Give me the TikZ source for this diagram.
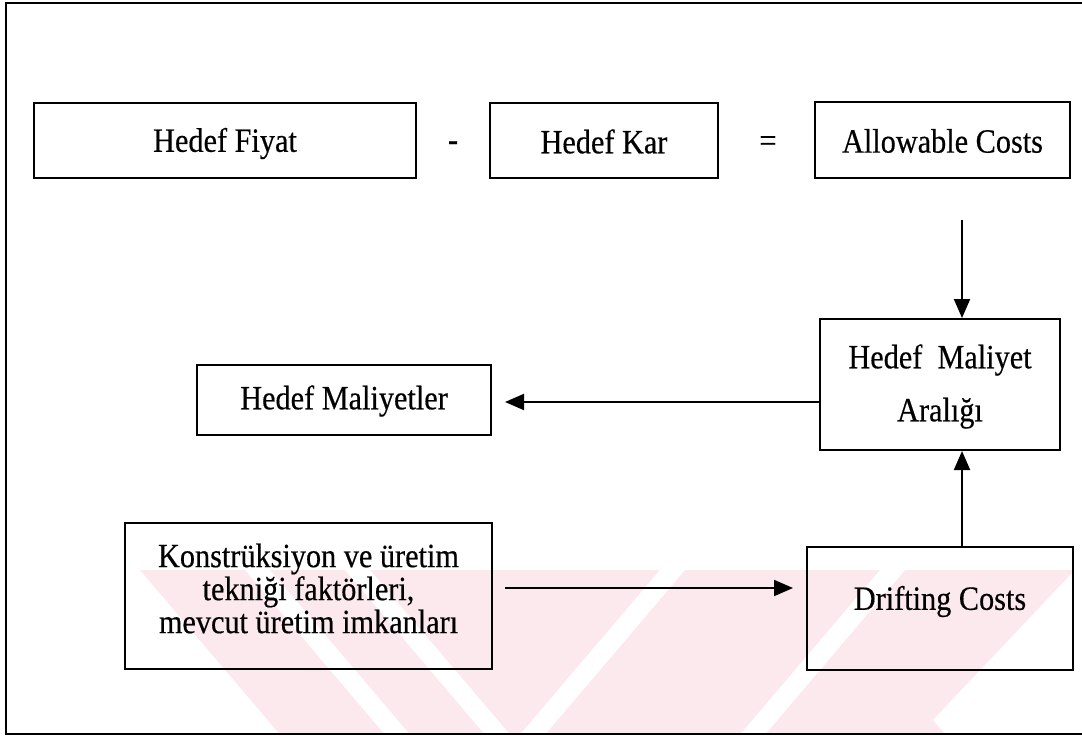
\documentclass[tikz,border=0pt]{standalone}
\usepackage{fontspec}
\setmainfont{Liberation Serif}[FakeStretch=0.89,FakeBold=0.4]
\usetikzlibrary{arrows.meta}
\definecolor{wmpink}{RGB}{252,233,237}
\tikzset{
  box/.style={draw, line width=2pt, inner sep=0pt},
  txt/.style={inner sep=0pt, align=center},
  conn/.style={line width=2pt, -{Triangle[length=19pt,width=16pt]}},
  gap/.style={fill=white},
}
\begin{document}
\begin{tikzpicture}[x=1pt,y=-1pt,font=\fontsize{34}{33}\selectfont]
\useasboundingbox (0,0) rectangle (1082,737);

% faint stripes in the lower part of the frame
\begin{scope}
  \clip (6,3) rectangle (1082,734);
  \fill[wmpink] (140,570) -- (1082,570) -- (1082,737) -- (282,737) -- cycle;
  \fill[gap] (245,570) -- (270,570) -- (412,737) -- (387,737) -- cycle;
  \fill[gap] (345,570) -- (370,570) -- (512,737) -- (487,737) -- cycle;
  \fill[gap] (660,570) -- (685,570) -- (543,737) -- (518,737) -- cycle;
  \fill[gap] (880,570) -- (905,570) -- (763,737) -- (738,737) -- cycle;
  \fill[gap] (1075,570) -- (1082,570) -- (1082,737) -- (948,737) -- (933,720) -- cycle;
\end{scope}

% outer frame (open on the right)
\draw[line width=2pt] (1090,3) -- (6,3) -- (6,734) -- (1090,734);

% top row: price - profit = allowable costs
\node[box, minimum width=382pt, minimum height=75pt] (fiyat) at (225,140.5) {};
\node[txt] (fiyat-t) at ([yshift=-3pt]fiyat.center) {Hedef Fiyat};
\node[txt, font=\fontsize{34}{33}\bfseries] (minus) at (453,146) {-};
\node[box, minimum width=228pt, minimum height=75pt] (kar) at (604,140.5) {};
\node[txt] (kar-t) at ([yshift=-1pt]kar.center) {Hedef Kar};
\node[txt] (eq) at (768,144) {=};
\node[box, minimum width=255pt, minimum height=76pt] (allow) at (942.5,140) {};
\node[txt] (allow-t) at ([yshift=-1pt]allow.center) {Allowable Costs};

% middle row
\node[box, minimum width=240pt, minimum height=131pt] (aral) at (940,384.5) {};
\node[txt, font=\fontsize{34}{53}\selectfont] (aral-t) at ([yshift=-2pt]aral.center) {Hedef\ \ Maliyet\\Aralığı};
\node[box, minimum width=294pt, minimum height=70pt] (hml) at (344,400) {};
\node[txt] (hml-t) at ([yshift=-1pt]hml.center) {Hedef Maliyetler};

% bottom row
\node[box, minimum width=367pt, minimum height=146pt] (kons) at (308.5,595.5) {};
\node[txt] (kons-t) at ([yshift=7pt]kons.center) {Konstrüksiyon ve üretim\\tekniği faktörleri,\\mevcut üretim imkanları};
\node[box, minimum width=266pt, minimum height=123pt] (drift) at (940,608.5) {};
\node[txt] (drift-t) at ([yshift=7pt]drift.center) {Drifting Costs};

% connectors
\coordinate (down) at (962,220);
\draw[conn] (down) -- (down |- aral.north);
\draw[conn, shorten >=13pt] (aral.west |- 0,402) -- (hml.east |- 0,402);
\draw[conn, shorten <=12pt, shorten >=13pt] (kons.east |- 0,588) -- (drift.west |- 0,588);
\draw[conn] (drift.north -| down) -- (aral.south -| down);
\end{tikzpicture}
\end{document}
